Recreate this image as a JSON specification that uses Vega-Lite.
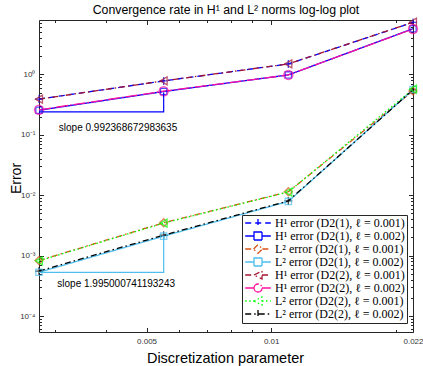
{
  "$schema": "https://vega.github.io/schema/vega-lite/v6.json",
  "width": 374,
  "height": 312,
  "autosize": {"type": "none"},
  "padding": {"left": 39, "top": 20, "right": 10, "bottom": 34},
  "background": "white",
  "title": {"text": "Convergence rate in H¹ and L² norms log-log plot", "font": "Liberation Sans", "fontSize": 12.3, "fontWeight": "normal", "color": "#000000", "offset": -1},
  "config": {
    "view": {"stroke": "#262626", "strokeWidth": 1},
    "axis": {"domain": false, "grid": false, "tickColor": "#262626", "tickWidth": 1, "labelFont": "Liberation Sans", "labelFontSize": 8, "labelColor": "#333333", "titleFont": "Liberation Sans", "titleFontWeight": "normal", "titleColor": "#000000"}
  },
  "datasets": {
    "series": [
      {"s": "H¹ error (D2(1), ℓ = 0.001)", "h": 0.00275, "err": 0.39},
      {"s": "H¹ error (D2(1), ℓ = 0.001)", "h": 0.0055, "err": 0.78},
      {"s": "H¹ error (D2(1), ℓ = 0.001)", "h": 0.011, "err": 1.49},
      {"s": "H¹ error (D2(1), ℓ = 0.001)", "h": 0.022, "err": 7.25},
      {"s": "H¹ error (D2(1), ℓ = 0.002)", "h": 0.00275, "err": 0.255},
      {"s": "H¹ error (D2(1), ℓ = 0.002)", "h": 0.0055, "err": 0.52},
      {"s": "H¹ error (D2(1), ℓ = 0.002)", "h": 0.011, "err": 0.98},
      {"s": "H¹ error (D2(1), ℓ = 0.002)", "h": 0.022, "err": 5.7},
      {"s": "L² error (D2(1), ℓ = 0.001)", "h": 0.00275, "err": 0.00083},
      {"s": "L² error (D2(1), ℓ = 0.001)", "h": 0.0055, "err": 0.0035},
      {"s": "L² error (D2(1), ℓ = 0.001)", "h": 0.011, "err": 0.0114},
      {"s": "L² error (D2(1), ℓ = 0.001)", "h": 0.022, "err": 0.53},
      {"s": "L² error (D2(1), ℓ = 0.002)", "h": 0.00275, "err": 0.00053},
      {"s": "L² error (D2(1), ℓ = 0.002)", "h": 0.0055, "err": 0.0021},
      {"s": "L² error (D2(1), ℓ = 0.002)", "h": 0.011, "err": 0.0079},
      {"s": "L² error (D2(1), ℓ = 0.002)", "h": 0.022, "err": 0.56},
      {"s": "H¹ error (D2(2), ℓ = 0.001)", "h": 0.00275, "err": 0.389},
      {"s": "H¹ error (D2(2), ℓ = 0.001)", "h": 0.0055, "err": 0.78},
      {"s": "H¹ error (D2(2), ℓ = 0.001)", "h": 0.011, "err": 1.49},
      {"s": "H¹ error (D2(2), ℓ = 0.001)", "h": 0.022, "err": 7.3},
      {"s": "H¹ error (D2(2), ℓ = 0.002)", "h": 0.00275, "err": 0.259},
      {"s": "H¹ error (D2(2), ℓ = 0.002)", "h": 0.0055, "err": 0.527},
      {"s": "H¹ error (D2(2), ℓ = 0.002)", "h": 0.011, "err": 0.98},
      {"s": "H¹ error (D2(2), ℓ = 0.002)", "h": 0.022, "err": 5.65},
      {"s": "L² error (D2(2), ℓ = 0.001)", "h": 0.00275, "err": 0.00082},
      {"s": "L² error (D2(2), ℓ = 0.001)", "h": 0.0055, "err": 0.00345},
      {"s": "L² error (D2(2), ℓ = 0.001)", "h": 0.011, "err": 0.0113},
      {"s": "L² error (D2(2), ℓ = 0.001)", "h": 0.022, "err": 0.57},
      {"s": "L² error (D2(2), ℓ = 0.002)", "h": 0.00275, "err": 0.000555},
      {"s": "L² error (D2(2), ℓ = 0.002)", "h": 0.0055, "err": 0.00218},
      {"s": "L² error (D2(2), ℓ = 0.002)", "h": 0.011, "err": 0.00805},
      {"s": "L² error (D2(2), ℓ = 0.002)", "h": 0.022, "err": 0.555}
    ],
    "tri": [
      {"g": "H1", "o": 1, "h": 0.00275, "err": 0.24},
      {"g": "H1", "o": 2, "h": 0.0055, "err": 0.24},
      {"g": "H1", "o": 3, "h": 0.0055, "err": 0.5},
      {"g": "L2", "o": 1, "h": 0.00275, "err": 0.000527},
      {"g": "L2", "o": 2, "h": 0.0055, "err": 0.000527},
      {"g": "L2", "o": 3, "h": 0.0055, "err": 0.00214}
    ],
    "notes": [
      {"t": "slope 0.992368672983635", "h": 0.00307, "err": 0.1305},
      {"t": "slope 1.995000741193243", "h": 0.003045, "err": 0.000334}
    ]
  },
  "layer": [
    {
      "data": {"name": "series"},
      "transform": [{"filter": "false"}],
      "mark": {"type": "point", "filled": false, "strokeWidth": 1.3},
      "encoding": {
        "color": {"field": "s", "type": "nominal",
                  "scale": {"domain": ["H¹ error (D2(1), ℓ = 0.001)", "H¹ error (D2(1), ℓ = 0.002)", "L² error (D2(1), ℓ = 0.001)", "L² error (D2(1), ℓ = 0.002)", "H¹ error (D2(2), ℓ = 0.001)", "H¹ error (D2(2), ℓ = 0.002)", "L² error (D2(2), ℓ = 0.001)", "L² error (D2(2), ℓ = 0.002)"],
                            "range": ["#0000FF", "#0000FF", "#D95319", "#4DBEEE", "#A2142F", "#FF10A0", "#00FF00", "#000000"]},
                  "legend": {"orient": "none", "legendX": 203, "legendY": 195, "title": null, "labelFont": "Liberation Serif, DejaVu Serif", "labelFontSize": 12, "labelColor": "#000000", "labelLimit": 0,
                             "strokeColor": "#262626", "fillColor": "white", "padding": 2, "rowPadding": -1.3, "symbolSize": 64, "symbolStrokeWidth": 1.3, "symbolOpacity": 1, "symbolOffset": 8, "labelOffset": 11}},
        "shape": {"field": "s", "type": "nominal",
                  "scale": {"domain": ["H¹ error (D2(1), ℓ = 0.001)", "H¹ error (D2(1), ℓ = 0.002)", "L² error (D2(1), ℓ = 0.001)", "L² error (D2(1), ℓ = 0.002)", "H¹ error (D2(2), ℓ = 0.001)", "H¹ error (D2(2), ℓ = 0.002)", "L² error (D2(2), ℓ = 0.001)", "L² error (D2(2), ℓ = 0.002)"],
                            "range": ["M-3.2,0H3.2M0,-1V1", "M-3.2,0H-1M1,0H3.2M-1,-1H1V1H-1Z", "M-3.2,0H-1.1M1.1,0H3.2M-1.1,0L0,-1.1L1.1,0L0,1.1Z", "M-3.2,0H-1M1,0H3.2M-1,-1H1V1H-1Z", "M-3.2,0H-1M1,0H3.2M-1,0L1,-1L1,1Z", "M-3.2,0H-1M1,0H3.2M-1,0A1,1,0,1,0,1,0A1,1,0,1,0,-1,0Z", "M-3.2,0H-1M1,0H3.2M-1,0L1,-1L1,1Z", "M-3.2,0H3.2M0,-1V1"]},
                  "legend": {"orient": "none", "legendX": 203, "legendY": 195, "title": null, "labelFont": "Liberation Serif, DejaVu Serif", "labelFontSize": 12, "labelColor": "#000000", "labelLimit": 0,
                             "strokeColor": "#262626", "fillColor": "white", "padding": 2, "rowPadding": -1.3, "symbolSize": 64, "symbolStrokeWidth": 1.3, "symbolOpacity": 1, "symbolOffset": 8, "labelOffset": 11}},
        "strokeDash": {"field": "s", "type": "nominal",
                  "scale": {"domain": ["H¹ error (D2(1), ℓ = 0.001)", "H¹ error (D2(1), ℓ = 0.002)", "L² error (D2(1), ℓ = 0.001)", "L² error (D2(1), ℓ = 0.002)", "H¹ error (D2(2), ℓ = 0.001)", "H¹ error (D2(2), ℓ = 0.002)", "L² error (D2(2), ℓ = 0.001)", "L² error (D2(2), ℓ = 0.002)"],
                            "range": [[6, 4], [1, 0], [6, 3, 1.5, 3], [1, 0], [6, 3, 1.5, 3], [12, 2, 1.5, 2], [1.5, 2.5], [6, 3, 1.5, 3]]},
                  "legend": {"orient": "none", "legendX": 203, "legendY": 195, "title": null, "labelFont": "Liberation Serif, DejaVu Serif", "labelFontSize": 12, "labelColor": "#000000", "labelLimit": 0,
                             "strokeColor": "#262626", "fillColor": "white", "padding": 2, "rowPadding": -1.3, "symbolSize": 64, "symbolStrokeWidth": 1.3, "symbolOpacity": 1, "symbolOffset": 8, "labelOffset": 11}}
      }
    },
    {
      "data": {"name": "series"},
      "mark": {"type": "line", "strokeWidth": 1.3},
      "encoding": {
        "x": {"field": "h", "type": "quantitative", "scale": {"type": "log", "domain": [0.00275, 0.022], "nice": false},
              "axis": {"orient": "bottom", "values": [0.005, 0.01, 0.022], "tickSize": -4.5, "labelPadding": 10, "labelExpr": "datum.value == 0.005 ? '0.005' : datum.value == 0.01 ? '0.01' : '0.022'", "labelFlush": false, "labelOverlap": false,
                       "title": "Discretization parameter", "titleFontSize": 14.5, "titleX": 186, "titleY": 30, "titleBaseline": "alphabetic", "titleAlign": "center"}},
        "y": {"field": "err", "type": "quantitative", "scale": {"type": "log", "domain": [5.44e-5, 7.95], "nice": false},
              "axis": {"orient": "left", "values": [0.0001, 0.001, 0.01, 0.1, 1], "tickSize": -4.5, "labelPadding": 8.5, "labelExpr": "datum.value == 1 ? '10⁰' : datum.value == 0.1 ? '10⁻¹' : datum.value == 0.01 ? '10⁻²' : datum.value == 0.001 ? '10⁻³' : '10⁻⁴'", "labelOverlap": false, "labelFlush": false,
                       "title": "Error", "titleFontSize": 14, "titleAngle": -90, "titleX": -19, "titleY": 158, "titleBaseline": "alphabetic", "titleAlign": "center"}},
        "color": {"field": "s", "type": "nominal"},
        "strokeDash": {"field": "s", "type": "nominal"}
      }
    },
    {
      "data": {"name": "series"},
      "transform": [{"filter": {"field": "s", "oneOf": ["H¹ error (D2(1), ℓ = 0.001)", "L² error (D2(2), ℓ = 0.002)"]}}],
      "mark": {"type": "point", "filled": false, "strokeWidth": 1.3, "size": 64, "shape": "M-1,0H1M0,-1V1"},
      "encoding": {
        "x": {"field": "h", "type": "quantitative",
              "axis": {"orient": "bottom", "values": [0.003, 0.004, 0.006, 0.007, 0.008, 0.009, 0.02], "tickSize": -2.5, "labels": false, "title": null}},
        "y": {"field": "err", "type": "quantitative",
              "axis": {"orient": "left", "values": [0.00006, 0.00007, 0.00008, 0.00009, 0.0002, 0.0003, 0.0004, 0.0005, 0.0006, 0.0007, 0.0008, 0.0009, 0.002, 0.003, 0.004, 0.005, 0.006, 0.007, 0.008, 0.009, 0.02, 0.03, 0.04, 0.05, 0.06, 0.07, 0.08, 0.09, 0.2, 0.3, 0.4, 0.5, 0.6, 0.7, 0.8, 0.9, 2, 3, 4, 5, 6, 7], "tickSize": -2.5, "labels": false, "title": null}},
        "color": {"field": "s", "type": "nominal"}
      }
    },
    {
      "data": {"name": "series"},
      "transform": [{"filter": {"field": "s", "oneOf": ["H¹ error (D2(1), ℓ = 0.002)", "L² error (D2(1), ℓ = 0.002)"]}}],
      "mark": {"type": "point", "filled": false, "strokeWidth": 1.3, "size": 40, "shape": "square"},
      "encoding": {
        "x": {"field": "h", "type": "quantitative", "axis": null},
        "y": {"field": "err", "type": "quantitative", "axis": null},
        "color": {"field": "s", "type": "nominal"}
      }
    },
    {
      "data": {"name": "series"},
      "transform": [{"filter": {"field": "s", "oneOf": ["L² error (D2(1), ℓ = 0.001)"]}}],
      "mark": {"type": "point", "filled": false, "strokeWidth": 1.3, "size": 64, "shape": "diamond"},
      "encoding": {
        "x": {"field": "h", "type": "quantitative", "axis": null},
        "y": {"field": "err", "type": "quantitative", "axis": null},
        "color": {"field": "s", "type": "nominal"}
      }
    },
    {
      "data": {"name": "series"},
      "transform": [{"filter": {"field": "s", "oneOf": ["H¹ error (D2(2), ℓ = 0.001)", "L² error (D2(2), ℓ = 0.001)"]}}],
      "mark": {"type": "point", "filled": false, "strokeWidth": 1.3, "size": 64, "shape": "triangle-left"},
      "encoding": {
        "x": {"field": "h", "type": "quantitative", "axis": null},
        "y": {"field": "err", "type": "quantitative", "axis": null},
        "color": {"field": "s", "type": "nominal"}
      }
    },
    {
      "data": {"name": "series"},
      "transform": [{"filter": {"field": "s", "oneOf": ["H¹ error (D2(2), ℓ = 0.002)"]}}],
      "mark": {"type": "point", "filled": false, "strokeWidth": 1.5, "size": 80, "shape": "circle"},
      "encoding": {
        "x": {"field": "h", "type": "quantitative", "axis": null},
        "y": {"field": "err", "type": "quantitative", "axis": null},
        "color": {"field": "s", "type": "nominal"}
      }
    },
    {
      "data": {"name": "tri"},
      "transform": [{"filter": "datum.g == 'H1'"}],
      "mark": {"type": "line", "color": "#0000FF", "strokeWidth": 1.2},
      "encoding": {
        "x": {"field": "h", "type": "quantitative",
              "axis": {"orient": "top", "values": [0.005, 0.01, 0.022], "tickSize": -4.5, "labels": false, "title": null}},
        "y": {"field": "err", "type": "quantitative",
              "axis": {"orient": "right", "values": [0.0001, 0.001, 0.01, 0.1, 1], "tickSize": -4.5, "labels": false, "title": null}},
        "order": {"field": "o", "type": "quantitative"}
      }
    },
    {
      "data": {"name": "tri"},
      "transform": [{"filter": "datum.g == 'L2'"}],
      "mark": {"type": "line", "color": "#4DBEEE", "strokeWidth": 1.2},
      "encoding": {
        "x": {"field": "h", "type": "quantitative",
              "axis": {"orient": "top", "values": [0.003, 0.004, 0.006, 0.007, 0.008, 0.009, 0.02], "tickSize": -2.5, "labels": false, "title": null}},
        "y": {"field": "err", "type": "quantitative",
              "axis": {"orient": "right", "values": [0.00006, 0.00007, 0.00008, 0.00009, 0.0002, 0.0003, 0.0004, 0.0005, 0.0006, 0.0007, 0.0008, 0.0009, 0.002, 0.003, 0.004, 0.005, 0.006, 0.007, 0.008, 0.009, 0.02, 0.03, 0.04, 0.05, 0.06, 0.07, 0.08, 0.09, 0.2, 0.3, 0.4, 0.5, 0.6, 0.7, 0.8, 0.9, 2, 3, 4, 5, 6, 7], "tickSize": -2.5, "labels": false, "title": null}},
        "order": {"field": "o", "type": "quantitative"}
      }
    },
    {
      "data": {"name": "notes"},
      "mark": {"type": "text", "align": "left", "baseline": "middle", "font": "Liberation Sans", "fontSize": 10, "color": "#000000"},
      "encoding": {
        "x": {"field": "h", "type": "quantitative", "axis": null},
        "y": {"field": "err", "type": "quantitative", "axis": null},
        "text": {"field": "t"}
      }
    }
  ],
  "resolve": {"axis": {"x": "independent", "y": "independent"}}
}
